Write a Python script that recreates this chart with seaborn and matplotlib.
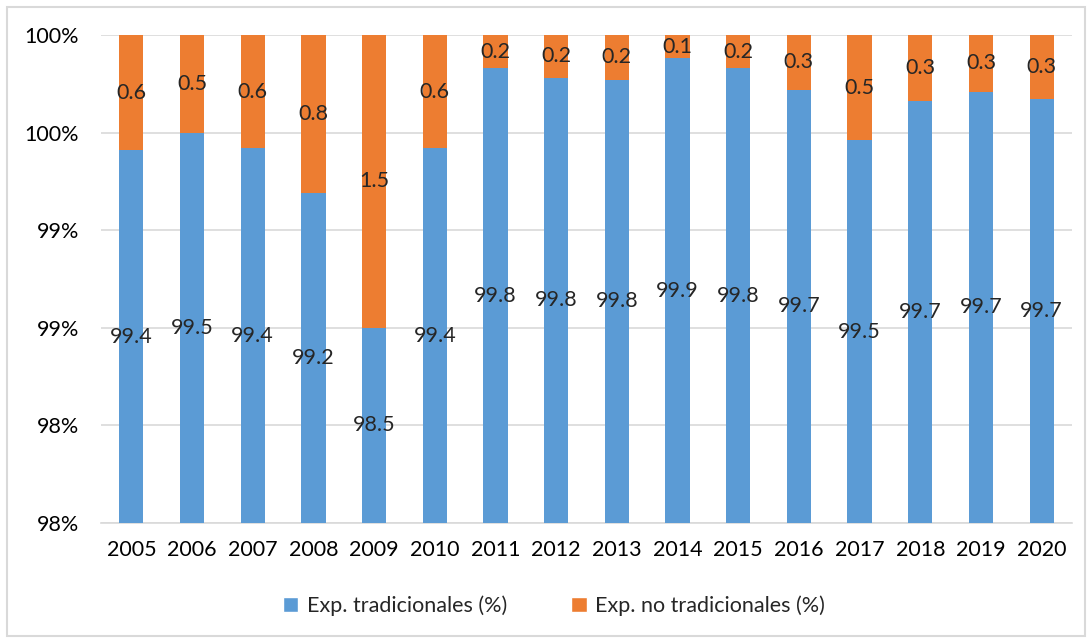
import pandas as pd
import numpy as np
import seaborn as sns
import matplotlib.pyplot as plt
from matplotlib.patches import Rectangle, Patch

years = ["2005", "2006", "2007", "2008", "2009", "2010", "2011", "2012",
         "2013", "2014", "2015", "2016", "2017", "2018", "2019", "2020"]
tradicionales = [99.41, 99.50, 99.42, 99.19, 98.50, 99.42, 99.83, 99.78,
                 99.77, 99.88, 99.83, 99.72, 99.46, 99.66, 99.71, 99.67]
no_tradicionales = [0.59, 0.50, 0.58, 0.81, 1.50, 0.58, 0.17, 0.22,
                    0.23, 0.12, 0.17, 0.28, 0.54, 0.34, 0.29, 0.33]
y_ticks = [97.5, 98.0, 98.5, 99.0, 99.5, 100.0]
y_tick_labels = ["98%", "98%", "99%", "99%", "100%", "100%"]

blue = "#5B9BD5"
orange = "#ED7D31"

df = pd.DataFrame({"year": years, "trad": tradicionales, "notrad": no_tradicionales})
df["total"] = df["trad"] + df["notrad"]

sns.set_theme(style="white")
plt.rcParams["font.family"] = ["Lato", "DejaVu Sans"]
fs = 15.5

fig = plt.figure(figsize=(10.92, 6.43), dpi=100)
ax = fig.add_axes([101 / 1092, 1 - 523 / 643, (1072 - 101) / 1092, (523 - 35) / 643])

# stacked: total in orange, then traditional on top of it in blue
sns.barplot(data=df, x="year", y="total", color=orange, width=0.4, ax=ax,
            saturation=1, linewidth=0, zorder=2)
sns.barplot(data=df, x="year", y="trad", color=blue, width=0.4, ax=ax,
            saturation=1, linewidth=0, zorder=3)

ymin, ymax = y_ticks[0], y_ticks[-1]
ax.set_ylim(ymin, ymax)
ax.set_yticks(y_ticks)
ax.set_yticklabels(y_tick_labels)
ax.yaxis.grid(True, color="#D9D9D9", linewidth=1.2, zorder=0)
ax.set_axisbelow(True)
for s in ax.spines.values():
    s.set_visible(False)
ax.spines["bottom"].set_visible(True)
ax.spines["bottom"].set_color("#D9D9D9")
ax.spines["bottom"].set_linewidth(1.2)
ax.set_xlabel("")
ax.set_ylabel("")
ax.tick_params(axis="both", length=0, labelsize=fs, colors="black")
ax.tick_params(axis="y", pad=16)
ax.tick_params(axis="x", pad=12)

# data labels centred on the visible part of each segment
for i, (t, n) in enumerate(zip(tradicionales, no_tradicionales)):
    ax.text(i, (ymin + t) / 2, f"{t:.1f}", ha="center", va="center", fontsize=fs, zorder=5)
    ax.text(i, t + n / 2, f"{n:.1f}", ha="center", va="center", fontsize=fs, zorder=5)

handles = [Patch(facecolor=blue, label="Exp. tradicionales (%)"),
           Patch(facecolor=orange, label="Exp. no tradicionales (%)")]
fig.legend(handles=handles, loc="center", bbox_to_anchor=(554 / 1092, 1 - 606 / 643),
           ncol=2, frameon=False, fontsize=fs, handlelength=0.7, handleheight=0.7,
           columnspacing=3.0, handletextpad=0.4)

fig.patches.append(Rectangle((7 / 1092, 7 / 643), 1 - 14 / 1092, 1 - 14 / 643,
                             transform=fig.transFigure, fill=False,
                             edgecolor="#D9D9D9", linewidth=1.5))

fig.savefig("out.png", dpi=100)
